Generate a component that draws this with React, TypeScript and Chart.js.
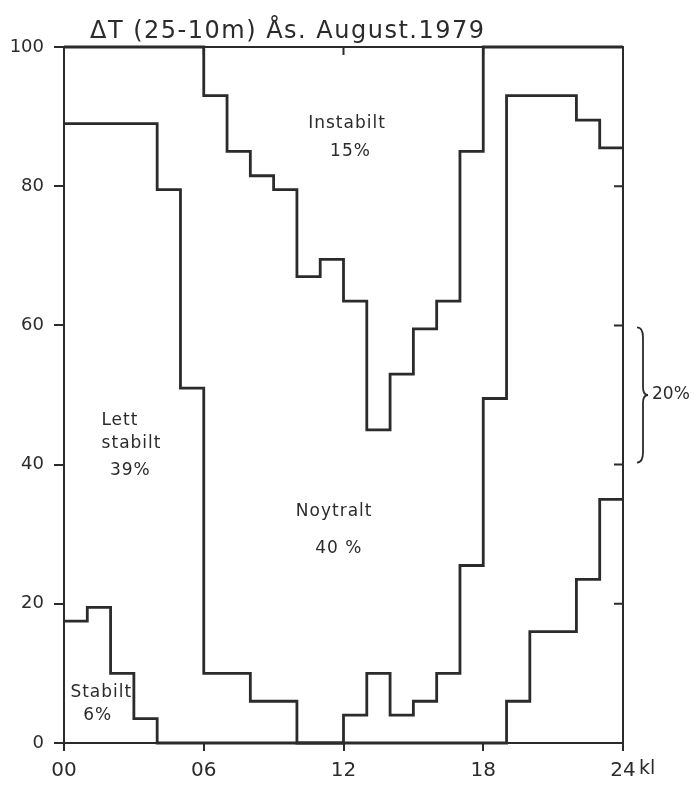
import React, { useEffect, useRef } from 'react';
import { Chart, registerables } from 'chart.js';

Chart.register(...registerables);

// Hour bins 00..23 (value held from hour h to h+1)
const hours = [0, 1, 2, 3, 4, 5, 6, 7, 8, 9, 10, 11, 12, 13, 14, 15, 16, 17, 18, 19, 20, 21, 22, 23];
// Cumulative upper boundary of "Stabilt"
const stabiltTop = [17.5, 19.5, 10, 3.5, 0, 0, 0, 0, 0, 0, 0, 0, 0, 0, 0, 0, 0, 0, 0, 6, 16, 16, 23.5, 35];
// Cumulative upper boundary of "Lett stabilt"
const lettStabiltTop = [89, 89, 89, 89, 79.5, 51, 10, 10, 6, 6, 0, 0, 4, 10, 4, 6, 10, 25.5, 49.5, 93, 93, 93, 89.5, 85.5];
// Cumulative upper boundary of "Noytralt" (above = "Instabilt")
const noytraltTop = [100, 100, 100, 100, 100, 100, 93, 85, 81.5, 79.5, 67, 69.5, 63.5, 45, 53, 59.5, 63.5, 85, 100, 100, 100, 100, 100, 100];

const xTickValues = [0, 6, 12, 18, 24];
const xTickLabels = ['00', '06', '12', '18', '24'];
const xUnitLabel = 'kl';
const yTickValues = [0, 20, 40, 60, 80, 100];
const titleText = 'ΔT (25-10m) Ås. August.1979';

const regionLabels = [
  { text: 'Instabilt', x: 12.15, y: 89 },
  { text: '15%', x: 12.3, y: 85 },
  { text: 'Lett', x: 2.4, y: 46.3 },
  { text: 'stabilt', x: 2.9, y: 43 },
  { text: '39%', x: 2.85, y: 39.2 },
  { text: 'Noytralt', x: 11.6, y: 33.3 },
  { text: '40 %', x: 11.8, y: 28 },
  { text: 'Stabilt', x: 1.6, y: 7.3 },
  { text: '6%', x: 1.45, y: 3.9 },
];
const braceRange = { from: 60, to: 40, text: '20%' };

const INK = '#2b2b2b';
const FONT = '"DejaVu Sans", sans-serif';

function toSteps(values: number[]) {
  const pts = hours.map((h, i) => ({ x: h, y: values[i] }));
  pts.push({ x: 24, y: values[values.length - 1] });
  return pts;
}

const decorPlugin = {
  id: 'decor',
  afterDraw(chart: any) {
    const { ctx, chartArea, scales } = chart;
    const xs = scales.x;
    const ys = scales.y;
    ctx.save();
    // frame (top + right)
    ctx.strokeStyle = INK;
    ctx.lineWidth = 2;
    ctx.beginPath();
    ctx.moveTo(chartArea.left, chartArea.top);
    ctx.lineTo(chartArea.right, chartArea.top);
    ctx.lineTo(chartArea.right, chartArea.bottom);
    ctx.stroke();
    // inner ticks on right axis
    ctx.beginPath();
    yTickValues.forEach((v) => {
      if (v === 0 || v === 100) return;
      const py = ys.getPixelForValue(v);
      ctx.moveTo(chartArea.right, py);
      ctx.lineTo(chartArea.right - 9, py);
    });
    // inner ticks on top axis
    xTickValues.forEach((v) => {
      if (v === 0 || v === 24) return;
      const px = xs.getPixelForValue(v);
      ctx.moveTo(px, chartArea.top);
      ctx.lineTo(px, chartArea.top + 8);
    });
    ctx.stroke();

    // title
    ctx.fillStyle = INK;
    ctx.font = `24px ${FONT}`;
    (ctx as any).letterSpacing = '1.5px';
    ctx.textAlign = 'left';
    ctx.textBaseline = 'alphabetic';
    ctx.fillText(titleText, 90, 38);

    // region labels
    ctx.font = `17px ${FONT}`;
    (ctx as any).letterSpacing = '1px';
    ctx.textAlign = 'center';
    ctx.textBaseline = 'middle';
    regionLabels.forEach((l) => {
      ctx.fillText(l.text, xs.getPixelForValue(l.x), ys.getPixelForValue(l.y));
    });
    (ctx as any).letterSpacing = '0px';

    // unit label after 24
    ctx.font = `19px ${FONT}`;
    ctx.textAlign = 'left';
    ctx.textBaseline = 'middle';
    ctx.fillText(xUnitLabel, xs.getPixelForValue(24) + 16, chartArea.bottom + 26);

    // brace
    const yTop = ys.getPixelForValue(braceRange.from);
    const yBot = ys.getPixelForValue(braceRange.to);
    const yMid = (yTop + yBot) / 2;
    const x0 = chartArea.right + 14;
    ctx.lineWidth = 1.8;
    ctx.beginPath();
    ctx.moveTo(x0, yTop + 2);
    ctx.quadraticCurveTo(x0 + 6, yTop + 2, x0 + 6, yTop + 12);
    ctx.lineTo(x0 + 6, yMid - 8);
    ctx.quadraticCurveTo(x0 + 6, yMid, x0 + 11, yMid);
    ctx.quadraticCurveTo(x0 + 6, yMid, x0 + 6, yMid + 8);
    ctx.lineTo(x0 + 6, yBot - 12);
    ctx.quadraticCurveTo(x0 + 6, yBot - 2, x0, yBot - 2);
    ctx.stroke();
    ctx.font = `17px ${FONT}`;
    ctx.textAlign = 'left';
    ctx.fillText(braceRange.text, x0 + 15, yMid);
    ctx.restore();
  },
};

export default function App() {
  const canvasRef = useRef<HTMLCanvasElement | null>(null);

  useEffect(() => {
    document.body.style.margin = '0';
    const canvas = canvasRef.current;
    if (!canvas) return;
    const lineStyle = {
      borderColor: INK,
      borderWidth: 2.8,
      pointRadius: 0,
      stepped: true,
      fill: false,
      clip: false as any,
    };
    const chart = new Chart(canvas, {
      type: 'line',
      data: {
        datasets: [
          { label: 'Stabilt', data: toSteps(stabiltTop), ...lineStyle },
          { label: 'Lett stabilt', data: toSteps(lettStabiltTop), ...lineStyle },
          { label: 'Noytralt', data: toSteps(noytraltTop), ...lineStyle },
        ],
      },
      options: {
        animation: false,
        responsive: false,
        devicePixelRatio: 1,
        layout: { padding: { top: 47, right: 74, left: 0, bottom: 0 } },
        plugins: {
          legend: { display: false },
          tooltip: { enabled: false },
          title: { display: false },
        },
        scales: {
          x: {
            type: 'linear',
            min: 0,
            max: 24,
            afterFit: (s: any) => { s.height = 42; },
            afterBuildTicks: (s: any) => { s.ticks = xTickValues.map((v) => ({ value: v })); },
            ticks: {
              color: INK,
              font: { family: FONT, size: 20 },
              padding: 8,
              maxRotation: 0,
              autoSkip: false,
              callback: (v: any) => {
                const i = xTickValues.indexOf(Number(v));
                return i >= 0 ? xTickLabels[i] : '';
              },
            },
            grid: { drawOnChartArea: false, drawTicks: true, tickLength: 8, color: INK, lineWidth: 2 },
            border: { display: true, color: INK, width: 2 },
          },
          y: {
            type: 'linear',
            min: 0,
            max: 100,
            afterFit: (s: any) => { s.width = 64; },
            afterBuildTicks: (s: any) => { s.ticks = yTickValues.map((v) => ({ value: v })); },
            ticks: {
              color: INK,
              font: { family: FONT, size: 18 },
              padding: 10,
              autoSkip: false,
            },
            grid: { drawOnChartArea: false, drawTicks: true, tickLength: 10, color: INK, lineWidth: 2 },
            border: { display: true, color: INK, width: 2 },
          },
        },
      },
      plugins: [decorPlugin],
    });
    return () => chart.destroy();
  }, []);

  return (
    <div style={{ width: 697, height: 785, background: '#fff' }}>
      <canvas ref={canvasRef} width={697} height={785} style={{ display: 'block' }} />
    </div>
  );
}
